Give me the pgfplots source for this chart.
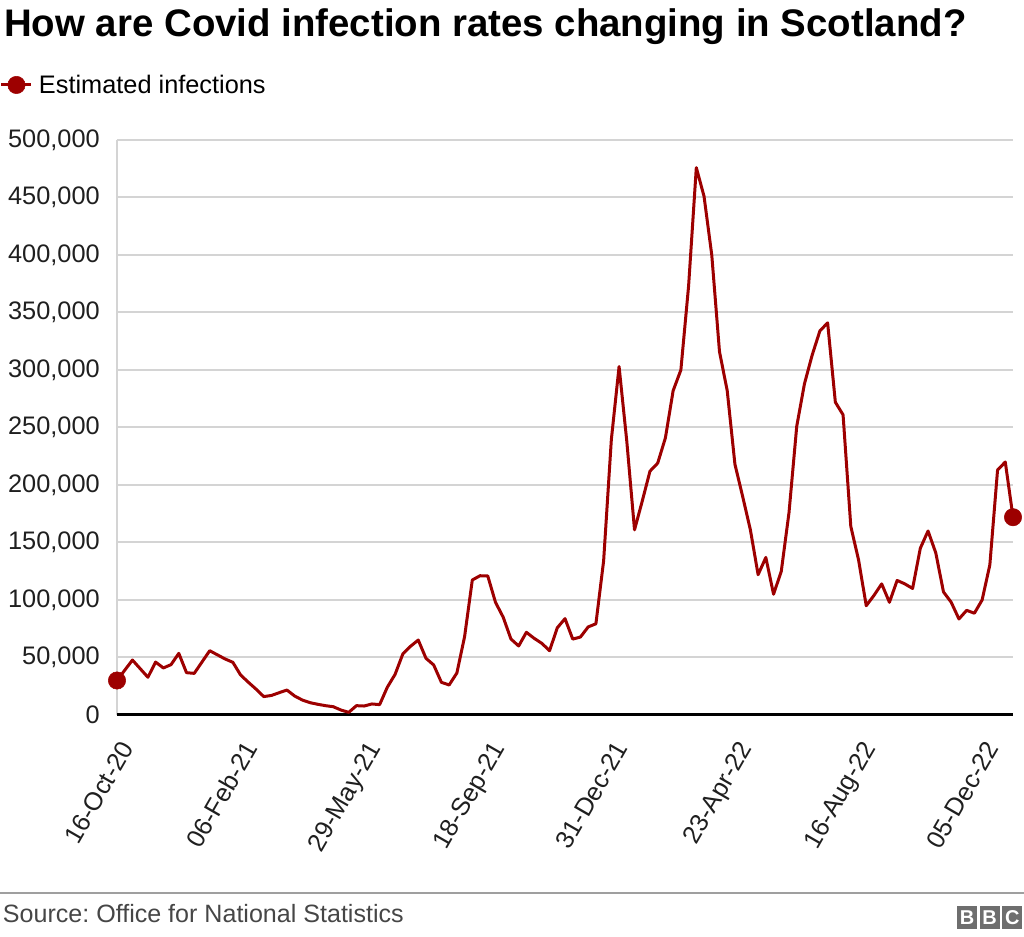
\documentclass[border=0pt]{standalone}
\usepackage{pgfplots}
\pgfplotsset{compat=1.18}
\usepackage{fontspec}
\setmainfont{Liberation Sans}
\frenchspacing
\definecolor{linered}{RGB}{157,0,0}
\definecolor{gridgray}{RGB}{212,212,212}
\definecolor{bbcgray}{RGB}{110,110,110}
\definecolor{srcgray}{RGB}{70,70,70}

\begin{document}
\begin{tikzpicture}
  % title
  \node[anchor=base west, inner sep=0pt] at (3pt,675pt)
    {\fontsize{28.8}{30}\selectfont\bfseries How are Covid infection rates changing in Scotland?};

  \begin{axis}[
      at={(87.75pt,166.5pt)}, anchor=south west,
      scale only axis,
      width=672pt, height=431.25pt,
      xmin=0, xmax=116,
      ymin=0, ymax=500000,
      enlargelimits=false,
      clip=false,
      axis line style={draw=none},
      major tick length=0pt,
      xtick={0,16,...,112},
      xticklabels={16-Oct-20,06-Feb-21,29-May-21,18-Sep-21,31-Dec-21,23-Apr-22,16-Aug-22,05-Dec-22},
      ytick={0,50000,...,500000},
      scaled y ticks=false,
      /pgf/number format/fixed,
      /pgf/number format/1000 sep={,},
      /pgf/number format/assume math mode=true,
      ticklabel style={font=\fontsize{19}{19}\selectfont, text=black!88},
      yticklabel style={anchor=east, inner sep=0pt, xshift=-12.75pt},
      xticklabel style={xshift=1.7pt, yshift=-18pt, rotate=60, anchor=north east, inner sep=0pt},
      ymajorgrids=true,
      major grid style={gridgray, line width=1.5pt},
      extra y ticks={0}, extra y tick labels={},
      extra y tick style={ymajorgrids=true, major grid style={black, line width=2.25pt}},
      extra x ticks={0}, extra x tick labels={},
      extra x tick style={xmajorgrids=true, major grid style={gridgray, line width=1.2pt}},
      legend style={at={(-0.1306,1.0957)}, anchor=west, draw=none, fill=none,
        inner sep=0pt, outer sep=0pt, font=\fontsize{19}{19}\selectfont,
        /tikz/every odd column/.append style={column sep=2.5pt}},
      legend cell align=left,
    ]

    \addplot[linered, line width=2.25pt, line join=round, forget plot] coordinates {
      (0,30000) (2,47800) (4,32800) (5,46000) (6,40900) (7,43800) (8,53600)
      (9,36800) (10,36200) (12,55900) (14,48700) (15,45800) (16,34800)
      (17,28500) (18,22500) (19,16000) (20,17000) (21,19400) (22,21700)
      (23,16500) (24,13000) (25,10700) (26,9300) (27,8100) (28,7200)
      (29,4300) (30,2300) (31,8100) (32,7800) (33,9600) (34,9000)
      (35,24200) (36,35300) (37,53000) (38,59700) (39,65200) (40,49300)
      (41,43500) (42,28400) (43,26100) (44,36500) (45,68100) (46,117400)
      (47,121100) (48,120900) (49,98000) (50,85000) (51,66100) (52,60000)
      (53,71900) (54,66700) (55,62300) (56,55900) (57,75800) (58,83800)
      (59,66000) (60,67800) (61,76600) (62,79300) (63,134000) (64,239500)
      (65,303000) (66,238000) (67,161000) (68,186000) (69,212000) (70,219000)
      (71,241000) (72,282000) (73,300000) (74,373000) (75,476000) (76,451000)
      (77,400000) (78,316000) (79,282000) (80,218000) (81,190000) (82,161000)
      (83,122000) (84,137000) (85,105000) (86,125000) (87,176000) (88,251000)
      (89,288000) (90,313000) (91,334000) (92,341000) (93,272000) (94,261000)
      (95,164000) (96,135000) (97,95000) (98,104000) (99,114000) (100,98000)
      (101,117000) (102,114000) (103,110000) (104,145000) (105,160000)
      (106,141000) (107,107000) (108,98000) (109,83500) (110,91000)
      (111,88500) (112,100000) (113,130500) (114,213000) (115,220000)
      (116,172000)
    };
    % first and last value highlighted
    \addplot[only marks, mark=*, mark size=6.5pt, color=linered, forget plot]
      coordinates {(0,30000) (116,172000)};

    \addlegendimage{legend image code/.code={
        \draw[linered, line width=2.25pt] (0pt,0pt) -- (22.5pt,0pt);
        \fill[linered] (11.25pt,0pt) circle (6.5pt);}}
    \addlegendentry{Estimated infections}
  \end{axis}

  % footer
  \draw[gray!75, line width=1.5pt] (0pt,33pt) -- (768pt,33pt);
  \node[anchor=base west, inner sep=0pt, text=srcgray] at (2pt,11pt)
    {\fontsize{18.8}{19}\selectfont Source: Office for National Statistics};
  \foreach \i/\l in {0/B,1/B,2/C} {
    \fill[bbcgray] (717.75pt+\i*17pt,6pt) rectangle ++(15pt,17pt);
    \node[text=white, inner sep=0pt] at (725.25pt+\i*17pt,14.5pt)
      {\fontsize{15}{15}\selectfont\bfseries \l};
  }

  \pgfresetboundingbox
  \path[use as bounding box] (0pt,0pt) rectangle (768pt,702.75pt);
\end{tikzpicture}
\end{document}
